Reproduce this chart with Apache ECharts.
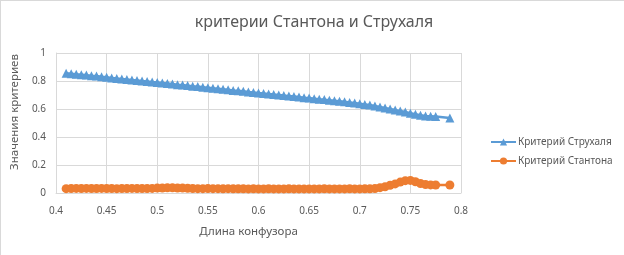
<!DOCTYPE html>
<html>
<head>
<meta charset="utf-8">
<script src="https://cdn.jsdelivr.net/npm/echarts@6/dist/echarts.min.js"></script>
<style>
  html, body { margin: 0; padding: 0; background: #fff; }
  #chart {
    width: 624px;
    height: 255px;
    box-sizing: border-box;
    border-top: 1px solid #d9d9d9;
    border-left: 1px solid #d9d9d9;
  }
</style>
</head>
<body>
<div id="chart"></div>
<script>
// длина конфузора
const lengths = [
  0.410, 0.415, 0.420, 0.425, 0.430, 0.435, 0.440, 0.445, 0.450, 0.455,
  0.460, 0.465, 0.470, 0.475, 0.480, 0.485, 0.490, 0.495, 0.500, 0.505,
  0.510, 0.515, 0.520, 0.525, 0.530, 0.535, 0.540, 0.545, 0.550, 0.555,
  0.560, 0.565, 0.570, 0.575, 0.580, 0.585, 0.590, 0.595, 0.600, 0.605,
  0.610, 0.615, 0.620, 0.625, 0.630, 0.635, 0.640, 0.645, 0.650, 0.655,
  0.660, 0.665, 0.670, 0.675, 0.680, 0.685, 0.690, 0.695, 0.700, 0.705,
  0.710, 0.715, 0.720, 0.725, 0.730, 0.735, 0.740, 0.745, 0.750, 0.755,
  0.760, 0.765, 0.770, 0.775, 0.789
]

const strouhal = [
  0.855, 0.852, 0.848, 0.845, 0.842, 0.838, 0.835, 0.830, 0.826, 0.822,
  0.818, 0.815, 0.811, 0.808, 0.804, 0.800, 0.797, 0.793, 0.790, 0.786,
  0.782, 0.778, 0.774, 0.771, 0.767, 0.763, 0.760, 0.756, 0.752, 0.748,
  0.745, 0.741, 0.737, 0.733, 0.730, 0.726, 0.722, 0.718, 0.714, 0.711,
  0.707, 0.703, 0.700, 0.696, 0.692, 0.689, 0.685, 0.681, 0.678, 0.674,
  0.670, 0.667, 0.663, 0.659, 0.655, 0.651, 0.647, 0.643, 0.638, 0.633,
  0.628, 0.622, 0.615, 0.608, 0.600, 0.593, 0.585, 0.578, 0.570, 0.562,
  0.555, 0.550, 0.548, 0.546, 0.535
]

const stanton = [
  0.031, 0.032, 0.033, 0.032, 0.033, 0.032, 0.032, 0.033, 0.032, 0.032,
  0.031, 0.032, 0.032, 0.033, 0.032, 0.032, 0.032, 0.033, 0.035, 0.036,
  0.037, 0.037, 0.036, 0.035, 0.034, 0.032, 0.031, 0.031, 0.032, 0.031,
  0.031, 0.030, 0.031, 0.030, 0.030, 0.030, 0.029, 0.030, 0.029, 0.029,
  0.030, 0.029, 0.029, 0.029, 0.030, 0.029, 0.029, 0.029, 0.029, 0.029,
  0.029, 0.030, 0.029, 0.029, 0.029, 0.029, 0.030, 0.029, 0.029, 0.030,
  0.030, 0.032, 0.038, 0.045, 0.055, 0.065, 0.078, 0.088, 0.090, 0.080,
  0.068, 0.060, 0.058, 0.057, 0.057
]

const seriesNames = ['Критерий Струхаля', 'Критерий Стантона']
const xTicks = { min: 0.4, max: 0.8, step: 0.05 }
const yTicks = { min: 0, max: 1, step: 0.2 }

const font = '"Noto Sans", "Open Sans", sans-serif'
const textColor = '#595959'
const gridColor = '#d9d9d9'

const pairs = (ys) => lengths.map((x, i) => [x, ys[i]])

const chart = echarts.init(document.getElementById('chart'), null, { renderer: 'canvas' })

chart.setOption({
  animation: false,
  textStyle: { fontFamily: font },
  title: {
    text: 'критерии Стантона и Струхаля',
    left: 308,
    textAlign: 'center',
    top: 8,
    textStyle: { fontFamily: font, fontSize: 16, fontWeight: 'normal', color: textColor },
  },
  legend: {
    orient: 'vertical',
    left: 484,
    top: 131,
    itemWidth: 25,
    itemHeight: 9,
    itemGap: 9,
    data: seriesNames,
    textStyle: { fontFamily: font, fontSize: 10, color: textColor, padding: [0, 0, 0, -3] },
  },
  grid: { left: 52, right: 163, top: 52, bottom: 62 },
  xAxis: {
    type: 'value',
    min: xTicks.min,
    max: xTicks.max,
    interval: xTicks.step,
    name: 'Длина конфузора',
    nameLocation: 'middle',
    nameGap: 33,
    nameTextStyle: { fontFamily: font, fontSize: 11.5, color: textColor, padding: [0, 20, 0, 0] },
    axisLine: { show: true, lineStyle: { color: gridColor } },
    axisTick: { show: false },
    axisLabel: { margin: 13, fontFamily: font, fontSize: 10, color: textColor },
    splitLine: { show: true, lineStyle: { color: gridColor } },
  },
  yAxis: {
    type: 'value',
    min: yTicks.min,
    max: yTicks.max,
    interval: yTicks.step,
    name: 'Значения критериев',
    nameLocation: 'middle',
    nameGap: 30,
    nameTextStyle: { fontFamily: font, fontSize: 11.5, color: textColor, padding: [0, 0, 0, 22] },
    axisLine: { show: true, lineStyle: { color: gridColor } },
    axisTick: { show: false },
    axisLabel: { margin: 10, fontFamily: font, fontSize: 10, color: textColor },
    splitLine: { show: true, lineStyle: { color: gridColor } },
  },
  series: [
    {
      name: seriesNames[0],
      type: 'line',
      data: pairs(strouhal),
      color: '#5b9bd5',
      symbol: 'triangle',
      symbolSize: 9,
      showAllSymbol: true,
      lineStyle: { width: 2.5 },
      emphasis: { disabled: true },
    },
    {
      name: seriesNames[1],
      type: 'line',
      data: pairs(stanton),
      color: '#ed7d31',
      symbol: 'circle',
      symbolSize: 9,
      showAllSymbol: true,
      lineStyle: { width: 2.5 },
      emphasis: { disabled: true },
    },
  ],
})
</script>
</body>
</html>
